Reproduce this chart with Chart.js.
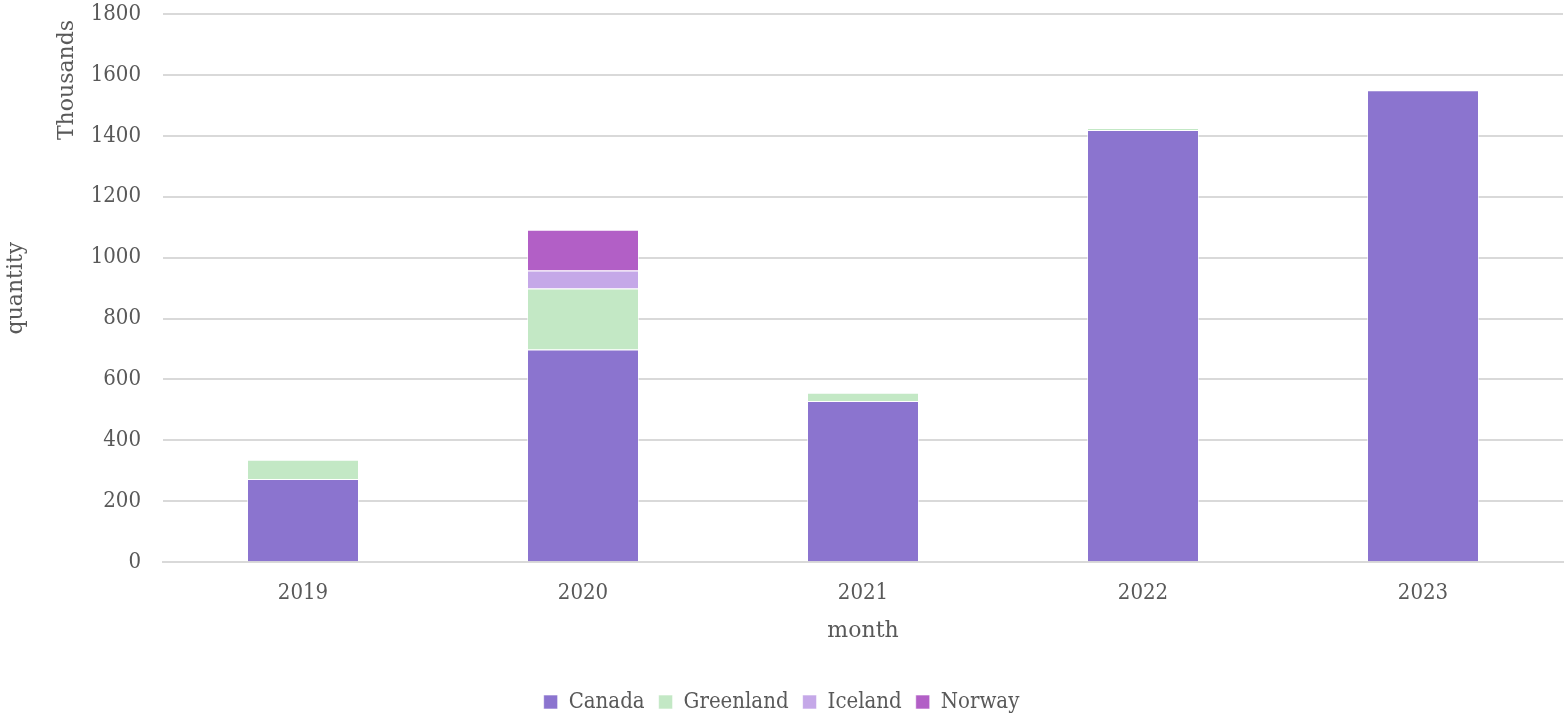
<!DOCTYPE html>
<html>
<head>
<meta charset="utf-8">
<script src="https://cdn.jsdelivr.net/npm/chart.js@4"></script>
<style>
  html, body { margin: 0; padding: 0; background: #fff; }
  #wrap { width: 1565px; height: 717px; }
</style>
</head>
<body>
<div id="wrap"><canvas id="chart" width="1565" height="717"></canvas></div>
<script>
const years = ['2019', '2020', '2021', '2022', '2023'];
const canada = [273, 698, 529, 1419, 1550];
const greenland = [63, 201, 27, 7, 0];
const iceland = [0, 59, 0, 0, 0];
const norway = [0, 134, 0, 0, 0];

const fontFamily = '"DejaVu Serif Condensed", "DejaVu Serif", serif';
const titleFamily = '"DejaVu Serif", serif';
const textColor = '#595959';
const fontSize = 22;

// "Thousands" unit label beside the y ticks
const unitLabel = {
  id: 'unitLabel',
  afterLayout(chart) {
    // push the legend a little closer to the bottom edge
    chart.legend.top += 6;
    chart.legend.bottom += 6;
  },
  afterDraw(chart) {
    const ctx = chart.ctx;
    const y = chart.scales.y;
    ctx.save();
    ctx.translate(67, y.top + 66);
    ctx.rotate(-Math.PI / 2);
    ctx.font = fontSize + 'px ' + titleFamily;
    ctx.fillStyle = textColor;
    ctx.textAlign = 'center';
    ctx.textBaseline = 'middle';
    ctx.fillText('Thousands', 0, 0);
    ctx.restore();
  }
};

function ds(label, data, color) {
  return {
    label, data,
    backgroundColor: color,
    borderColor: 'rgba(255,255,255,0.6)',
    borderWidth: 1,
    barPercentage: 0.4,
    categoryPercentage: 1
  };
}

new Chart(document.getElementById('chart').getContext('2d'), {
  type: 'bar',
  data: {
    labels: years,
    datasets: [
      ds('Canada', canada, '#8B74CF'),
      ds('Greenland', greenland, '#C3E8C5'),
      ds('Iceland', iceland, '#C5A8E8'),
      ds('Norway', norway, '#B25FC6')
    ]
  },
  plugins: [unitLabel],
  options: {
    responsive: false,
    animation: false,
    layout: { padding: { top: 14, right: 2, left: 0, bottom: 0 } },
    plugins: {
      legend: {
        position: 'bottom',
        labels: {
          color: textColor,
          font: { family: fontFamily, size: fontSize },
          boxWidth: 14,
          boxHeight: 14,
          padding: 14
        }
      },
      tooltip: { enabled: false }
    },
    scales: {
      x: {
        stacked: true,
        grid: { display: false },
        border: { color: '#d9d9d9', width: 2 },
        ticks: { color: textColor, font: { family: fontFamily, size: fontSize }, padding: 10 },
        title: { display: true, text: 'month', color: textColor, font: { family: titleFamily, size: fontSize }, padding: { top: 1, bottom: 27 } }
      },
      y: {
        stacked: true,
        min: 0,
        max: 1800,
        afterFit(scale) {
          scale.width = 163;
          scale.paddingTop = 0;
          scale.paddingBottom = 0;
        },
        ticks: {
          stepSize: 200,
          color: textColor,
          font: { family: fontFamily, size: fontSize },
          padding: 22,
          callback: v => String(v)
        },
        grid: { color: '#d9d9d9', lineWidth: 2, drawTicks: false },
        border: { display: false },
        title: { display: true, text: 'quantity', color: textColor, font: { family: titleFamily, size: fontSize }, padding: { top: 3, bottom: 0 } }
      }
    }
  }
});
</script>
</body>
</html>
